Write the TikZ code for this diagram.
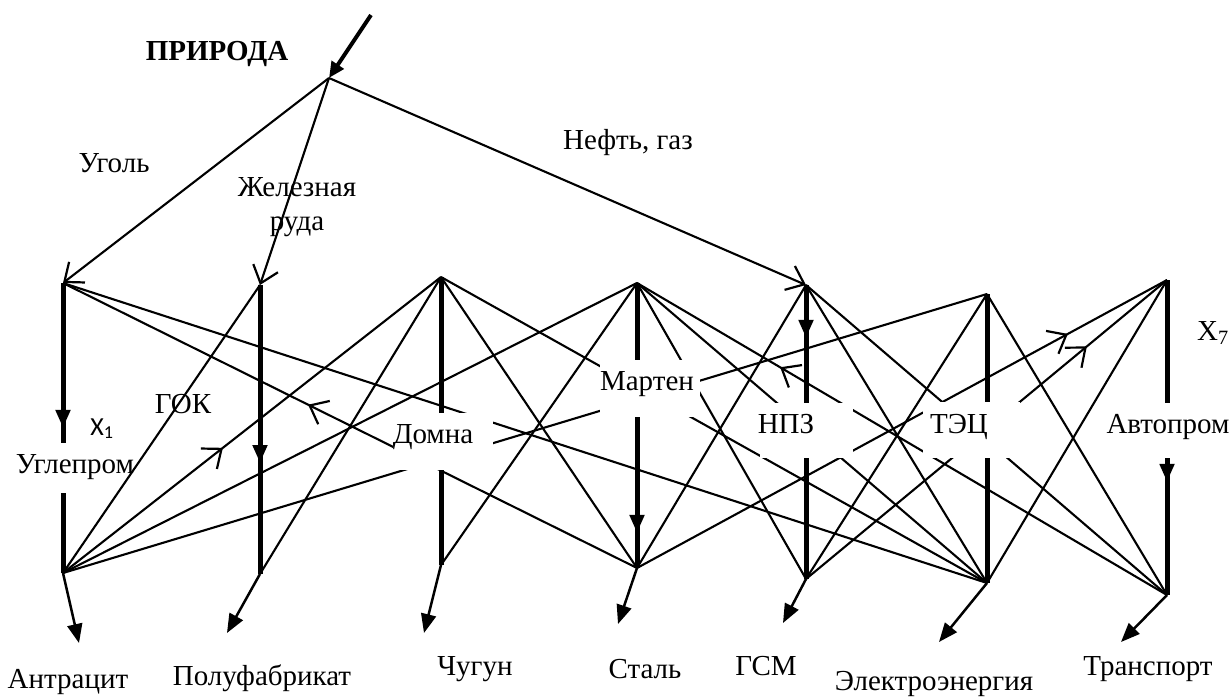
\documentclass[tikz,border=0pt]{standalone}
\usepackage{fontspec}
\setmainfont{Liberation Serif}
\newfontfamily\calibrifont{Carlito}
\usetikzlibrary{arrows.meta,decorations.markings}

\tikzset{
  link/.style={line width=2.1pt},
  bar/.style={line width=5pt},
  openhead/.style={-{Straight Barb[length=16pt,width=26pt,line width=2.2pt]}},
  midopen/.style={postaction={decorate},decoration={markings,
      mark=at position #1 with {\arrow{Straight Barb[length=16pt,width=26pt,line width=2.2pt]}}}},
  midtri/.style={postaction={decorate},decoration={markings,
      mark=at position #1 with {\arrow{Triangle[length=18pt,width=14pt]}}}},
  product/.style={line width=2.5pt,-{Triangle[length=19pt,width=15pt]}},
  mask/.style={fill=white},
  lbl/.style={inner sep=0pt,anchor=base},
}

\begin{document}
\begin{tikzpicture}[x=1pt,y=-1pt,font=\fontsize{29pt}{34pt}\selectfont]
\useasboundingbox (0,0) rectangle (1232,697);

% source point and inflow
\coordinate (IN) at (371,15);
\coordinate (P)  at (329,78);

% tops and bottoms of the seven branch bars
\coordinate (T1) at (63,283);   \coordinate (B1) at (63,573);
\coordinate (T2) at (260,285);  \coordinate (B2) at (260,574);
\coordinate (T3) at (441,277);  \coordinate (B3) at (441,565);
\coordinate (T4) at (637,283);  \coordinate (B4) at (637,568);
\coordinate (T5) at (806,285);  \coordinate (B5) at (806,579);
\coordinate (T6) at (987,294);  \coordinate (B6) at (987,583);
\coordinate (T7) at (1167,280); \coordinate (B7) at (1167,595);
% gap in the coal bar around its label
\coordinate (G1a) at (63,443);  \coordinate (G1b) at (63,493);

% free ends of the product arrows
\coordinate (O1) at (79,643);
\coordinate (O2) at (227,633);
\coordinate (O3) at (424,633);
\coordinate (O4) at (618,624);
\coordinate (O5) at (783,623);
\coordinate (O6) at (939,642);
\coordinate (O7) at (1121,642);

% raw materials from nature
\draw[line width=4pt,-{Triangle[length=16pt,width=14pt]}] (IN) -- (P);
\draw[link,openhead] (P) -- (T1);
\draw[link,openhead] (P) -- (T2);
\draw[link,openhead] (P) -- (T5);

% cross deliveries between branches
\draw[link] (T1) -- (B6);
\draw[link,midopen=0.573] (B4) -- (T1);
\draw[link] (T2) -- (B1);
\draw[link,midopen=0.423] (B1) -- (T3);
\draw[link] (T3) -- (B2);
\draw[link] (T3) -- (B4);
\draw[link] (T3) -- (B6);
\draw[link] (T4) -- (B1);
\draw[link] (T4) -- (B3);
\draw[link] (T4) -- (B5);
\draw[link] (T4) -- (B6);
\draw[link,midopen=0.730] (B7) -- (T4);
\draw[link] (T5) -- (B4);
\draw[link] (T5) -- (B6);
\draw[link] (T5) -- (B7);
\draw[link] (T6) -- (B1);
\draw[link] (T6) -- (B5);
\draw[link] (T6) -- (B7);
\draw[link,midopen=0.813] (B4) -- (T7);
\draw[link,midopen=0.778] (B5) -- (T7);
\draw[link] (T7) -- (B6);

% branch bars
\draw[bar,midtri=0.906] (T1) -- (G1a);
\draw[bar] (G1b) -- (B1);
\draw[bar,midtri=0.616] (T2) -- (B2);
\draw[bar] (T3) -- (B3);
\draw[bar,midtri=0.877] (T4) -- (B4);
\draw[bar,midtri=0.180] (T5) -- (B5);
\draw[bar] (T6) -- (B6);
\draw[bar,midtri=0.641] (T7) -- (B7);

% white fields behind the branch names
\fill[mask] (393,413) rectangle (493,470);
\fill[mask] (600,360) rectangle (700,417);
\fill[mask] (760,403) rectangle (853,458);
\fill[mask] (923,402) rectangle (1020,458);
\fill[mask] (1100,403) rectangle (1232,458);

% products
\draw[product] (B1) -- (O1);
\draw[product] (B2) -- (O2);
\draw[product] (B3) -- (O3);
\draw[product] (B4) -- (O4);
\draw[product] (B5) -- (O5);
\draw[product] (B6) -- (O6);
\draw[product] (B7) -- (O7);

% labels
\node[lbl,font=\fontsize{29pt}{34pt}\selectfont\bfseries] (nature) at (217,60) {ПРИРОДА};
\node[lbl] (coal) at (114,172) {Уголь};
\node[lbl,align=center] (ore) at (297,230) {Железная\\руда};
\node[lbl] (oil) at (628,149) {Нефть, газ};

\node[lbl,font=\calibrifont\fontsize{26pt}{30pt}\selectfont] (x1) at (102,435) {X\textsubscript{1}};
\node[lbl] (x7) at (1213,340) {X\textsubscript{7}};

\node[lbl] (ugl)  at (75,473)   {Углепром};
\node[lbl] (gok)  at (183,413)  {ГОК};
\node[lbl] (dom)  at (433,443)  {Домна};
\node[lbl] (mar)  at (647,390)  {Мартен};
\node[lbl] (npz)  at (786,433)  {НПЗ};
\node[lbl] (tec)  at (959,433)  {ТЭЦ};
\node[lbl] (avto) at (1168,433) {Автопром};

\node[lbl] (p1) at (68,688)   {Антрацит};
\node[lbl] (p2) at (262,685)  {Полуфабрикат};
\node[lbl] (p3) at (475,675)  {Чугун};
\node[lbl] (p4) at (645,678)  {Сталь};
\node[lbl] (p5) at (766,675)  {ГСМ};
\node[lbl] (p6) at (934,690)  {Электроэнергия};
\node[lbl] (p7) at (1148,675) {Транспорт};
\end{tikzpicture}
\end{document}
